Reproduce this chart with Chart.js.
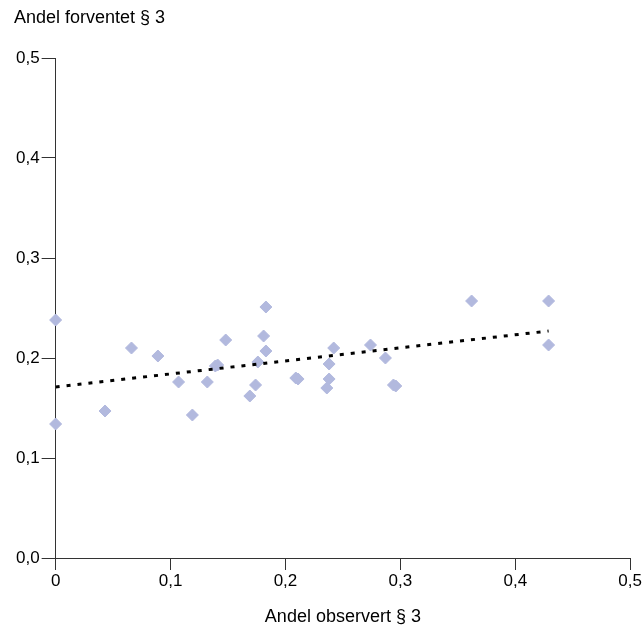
<!DOCTYPE html>
<html lang="no">
<head>
<meta charset="UTF-8">
<title>Andel forventet mot observert § 3</title>
<script src="https://cdn.jsdelivr.net/npm/chart.js"></script>
<style>
    body {
        margin: 0;
        padding: 0;
        background: #fff;
    }
</style>
</head>
<body>
<canvas id="scatterChart" width="643" height="628"></canvas>
<script>
    // observert (x) og forventet (y) andel per enhet
    const observert = [0, 0, 0.043, 0.066, 0.089, 0.107, 0.119, 0.132, 0.139, 0.141, 0.148,
        0.169, 0.174, 0.176, 0.181, 0.183, 0.183, 0.209, 0.211, 0.236, 0.238, 0.238, 0.242,
        0.274, 0.287, 0.294, 0.296, 0.362, 0.429, 0.429];
    const forventet = [0.238, 0.134, 0.147, 0.210, 0.202, 0.176, 0.143, 0.176, 0.192, 0.193, 0.218,
        0.162, 0.173, 0.196, 0.222, 0.251, 0.207, 0.180, 0.179, 0.170, 0.179, 0.194, 0.210,
        0.213, 0.200, 0.173, 0.172, 0.257, 0.257, 0.213];

    // lineær trendlinje
    const trendX = [0, 0.429];
    const trendY = [0.171, 0.227];

    const xTickLabels = ['0', '0,1', '0,2', '0,3', '0,4', '0,5'];
    const yTickLabels = ['0,0', '0,1', '0,2', '0,3', '0,4', '0,5'];

    Chart.defaults.font.family = '"Liberation Sans", Arial, sans-serif';
    Chart.defaults.font.size = 17;
    Chart.defaults.color = '#000';

    const points = observert.map((x, i) => ({ x: x, y: forventet[i] }));
    const trend = trendX.map((x, i) => ({ x: x, y: trendY[i] }));

    const ctx = document.getElementById('scatterChart').getContext('2d');
    const chart = new Chart(ctx, {
        type: 'scatter',
        data: {
            datasets: [{
                label: 'Trend',
                data: trend,
                showLine: true,
                borderColor: '#000',
                borderWidth: 3,
                borderDash: [4, 7],
                pointRadius: 0,
                fill: false,
                order: 0
            }, {
                label: 'Andel',
                data: points,
                pointStyle: 'rectRot',
                pointRadius: 6,
                pointHoverRadius: 6,
                backgroundColor: '#b2b9de',
                borderColor: '#b2b9de',
                borderWidth: 1,
                clip: false,
                order: 1
            }]
        },
        options: {
            responsive: false,
            animation: false,
            layout: { padding: { left: 14, right: -3, top: 0, bottom: 0 } },
            plugins: {
                legend: { display: false },
                tooltip: { enabled: false },
                title: {
                    display: true,
                    text: 'Andel forventet § 3',
                    align: 'start',
                    font: { size: 18, weight: 'normal' },
                    padding: { top: 7, bottom: 29.4 }
                }
            },
            scales: {
                x: {
                    type: 'linear',
                    min: 0,
                    max: 0.5,
                    afterBuildTicks: (axis) => {
                        axis.ticks = xTickLabels.map((_, i) => ({ value: i / 10 }));
                    },
                    ticks: {
                        padding: 1,
                        maxRotation: 0,
                        callback: (value, index) => xTickLabels[index]
                    },
                    grid: { drawOnChartArea: false, tickLength: 12, color: '#333' },
                    border: { color: '#333', width: 1 },
                    title: {
                        display: true,
                        text: 'Andel observert § 3',
                        font: { size: 18 },
                        padding: { top: 14, bottom: 0 }
                    }
                },
                y: {
                    type: 'linear',
                    min: 0,
                    max: 0.5,
                    afterBuildTicks: (axis) => {
                        axis.ticks = yTickLabels.map((_, i) => ({ value: i / 10 }));
                    },
                    ticks: {
                        padding: 2,
                        callback: (value, index) => yTickLabels[index]
                    },
                    grid: { drawOnChartArea: false, tickLength: 14, color: '#333' },
                    border: { color: '#333', width: 1 }
                }
            }
        }
    });
</script>
</body>
</html>
